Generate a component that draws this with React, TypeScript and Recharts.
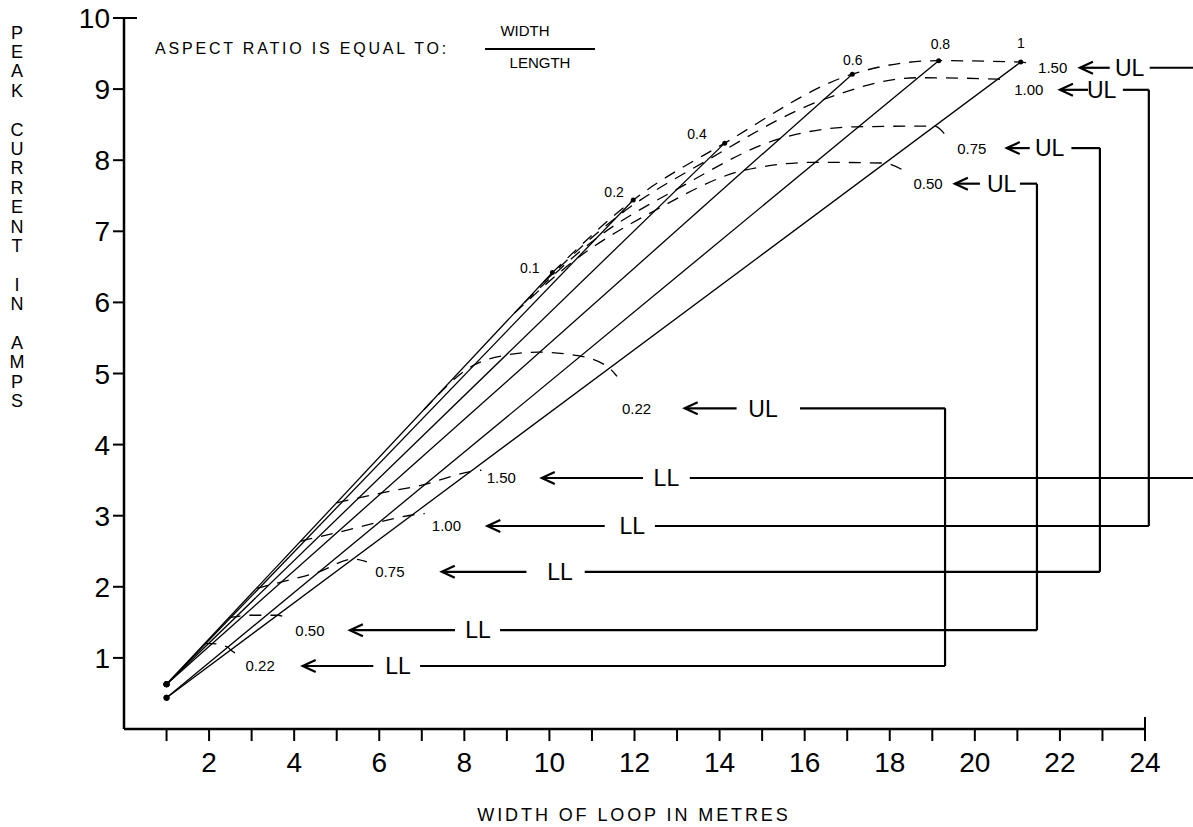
import React from 'react';
import { LineChart, Line, XAxis, YAxis, ReferenceLine, ReferenceDot } from 'recharts';

const FONT = '"Liberation Sans", Arial, Helvetica, sans-serif';

// solid lines, one per aspect ratio (width / length)
const ratioLabels = ['0.1', '0.2', '0.4', '0.6', '0.8', '1'];
const ratio01 = [{ x: 1.0, y: 0.63 }, { x: 10.07, y: 6.42 }];
const ratio02 = [{ x: 1.0, y: 0.63 }, { x: 11.97, y: 7.44 }];
const ratio04 = [{ x: 1.0, y: 0.63 }, { x: 14.12, y: 8.24 }];
const ratio06 = [{ x: 1.0, y: 0.63 }, { x: 17.12, y: 9.21 }];
const ratio08 = [{ x: 1.0, y: 0.44 }, { x: 19.15, y: 9.4 }];
const ratio10 = [{ x: 1.0, y: 0.44 }, { x: 21.08, y: 9.38 }];
const ratioLines = [ratio01, ratio02, ratio04, ratio06, ratio08, ratio10];
const ratioLabelAt = [
  { x: 9.54, y: 6.49 },
  { x: 11.52, y: 7.56 },
  { x: 13.47, y: 8.37 },
  { x: 17.13, y: 9.41 },
  { x: 19.19, y: 9.63 },
  { x: 21.08, y: 9.65 },
];

// dashed curves: upper limits
const ul150 = [
  { x: 10.07, y: 6.42 }, { x: 11.97, y: 7.44 }, { x: 14.12, y: 8.24 }, { x: 17.12, y: 9.21 },
  { x: 19.15, y: 9.4 }, { x: 21.08, y: 9.38 }, { x: 21.3, y: 9.36 },
];
const ul100 = [
  { x: 9.86, y: 6.28 }, { x: 11.58, y: 7.2 }, { x: 13.71, y: 8.0 }, { x: 16.43, y: 8.85 },
  { x: 18.66, y: 9.16 }, { x: 20.54, y: 9.14 }, { x: 20.8, y: 9.12 },
];
const ul075 = [
  { x: 9.42, y: 6.0 }, { x: 11.1, y: 6.9 }, { x: 13.02, y: 7.6 }, { x: 15.4, y: 8.3 },
  { x: 17.23, y: 8.47 }, { x: 19.04, y: 8.48 }, { x: 19.34, y: 8.33 },
];
const ul050 = [
  { x: 9.18, y: 5.85 }, { x: 10.61, y: 6.6 }, { x: 12.5, y: 7.3 }, { x: 14.59, y: 7.86 },
  { x: 16.24, y: 7.97 }, { x: 17.84, y: 7.96 }, { x: 18.43, y: 7.82 },
];
const ul022 = [
  { x: 7.05, y: 4.49 }, { x: 8.23, y: 5.12 }, { x: 9.0, y: 5.26 }, { x: 9.73, y: 5.3 },
  { x: 10.67, y: 5.25 }, { x: 11.4, y: 5.08 }, { x: 11.59, y: 4.96 },
];

// dashed curves: lower limits
const ll150 = [
  { x: 5.0, y: 3.18 }, { x: 5.14, y: 3.2 }, { x: 5.52, y: 3.25 }, { x: 6.06, y: 3.32 },
  { x: 7.0, y: 3.43 }, { x: 8.15, y: 3.62 }, { x: 8.4, y: 3.64 },
];
const ll100 = [
  { x: 4.15, y: 2.64 }, { x: 4.27, y: 2.66 }, { x: 4.57, y: 2.7 }, { x: 5.0, y: 2.76 },
  { x: 6.0, y: 2.91 }, { x: 6.78, y: 3.01 }, { x: 7.07, y: 3.03 },
];
const ll075 = [
  { x: 3.12, y: 1.98 }, { x: 3.19, y: 1.99 }, { x: 3.4, y: 2.02 }, { x: 3.71, y: 2.07 },
  { x: 4.58, y: 2.21 }, { x: 5.38, y: 2.39 }, { x: 5.71, y: 2.35 },
];
const ll050 = [
  { x: 2.46, y: 1.56 }, { x: 2.51, y: 1.57 }, { x: 2.64, y: 1.58 }, { x: 2.85, y: 1.6 },
  { x: 3.35, y: 1.6 }, { x: 3.61, y: 1.6 }, { x: 3.85, y: 1.55 },
];
const ll022 = [
  { x: 1.89, y: 1.2 }, { x: 1.92, y: 1.2 }, { x: 1.98, y: 1.2 }, { x: 2.07, y: 1.2 },
  { x: 2.44, y: 1.15 }, { x: 2.51, y: 1.11 }, { x: 2.73, y: 1.04 },
];
const limitCurves = [ul150, ul100, ul075, ul050, ul022, ll150, ll100, ll075, ll050, ll022];

// callouts: number, arrow, tag, then a line out to the bracket
type Callout = { value: string; y: number; labelX: number; tipX: number; tailX: number; tagX: number; lineX: number; endX: number };
const ulCallouts: Callout[] = [
  { value: '1.50', y: 9.3, labelX: 21.83, tipX: 22.47, tailX: 23.17, tagX: 23.64, lineX: 24.11, endX: 25.6 },
  { value: '1.00', y: 8.99, labelX: 21.27, tipX: 22.0, tailX: 22.66, tagX: 22.98, lineX: 23.48, endX: 24.09 },
  { value: '0.75', y: 8.17, labelX: 19.93, tipX: 20.75, tailX: 21.29, tagX: 21.76, lineX: 22.27, endX: 22.94 },
  { value: '0.50', y: 7.67, labelX: 18.9, tipX: 19.53, tailX: 20.12, tagX: 20.63, lineX: 21.06, endX: 21.46 },
  { value: '0.22', y: 4.51, labelX: 12.05, tipX: 13.18, tailX: 14.4, tagX: 15.02, lineX: 15.89, endX: 19.3 },
];
const llCallouts: Callout[] = [
  { value: '1.50', y: 3.53, labelX: 8.87, tipX: 9.82, tailX: 12.2, tagX: 12.75, lineX: 13.3, endX: 25.6 },
  { value: '1.00', y: 2.855, labelX: 7.58, tipX: 8.54, tailX: 11.3, tagX: 11.95, lineX: 12.48, endX: 24.09 },
  { value: '0.75', y: 2.21, labelX: 6.25, tipX: 7.47, tailX: 9.46, tagX: 10.25, lineX: 10.83, endX: 22.94 },
  { value: '0.50', y: 1.39, labelX: 4.37, tipX: 5.31, tailX: 7.78, tagX: 8.32, lineX: 8.84, endX: 21.46 },
  { value: '0.22', y: 0.886, labelX: 3.2, tipX: 4.2, tailX: 5.86, tagX: 6.44, lineX: 6.96, endX: 19.3 },
];

const xTicks = [1, 2, 3, 4, 5, 6, 7, 8, 9, 10, 11, 12, 13, 14, 15, 16, 17, 18, 19, 20, 21, 22, 23, 24];
const yTicks = [1, 2, 3, 4, 5, 6, 7, 8, 9, 10];

const X_TICK = 12;
const X_GAP = 4;
const Y_TICK = 11;
const Y_GAP = 3;

const XTick = (p: any) => {
  const v = p.payload.value;
  const axisY = p.y - X_TICK - X_GAP;
  return (
    <g>
      {v === 24 && <line x1={p.x} x2={p.x} y1={axisY - 12} y2={axisY} stroke="#000" strokeWidth={2} />}
      {v % 2 === 0 && (
        <text x={p.x} y={axisY + 43} textAnchor="middle" fontSize={28} fontFamily={FONT} fill="#000">
          {v}
        </text>
      )}
    </g>
  );
};

const YTick = (p: any) => {
  const v = p.payload.value;
  const axisX = p.x + Y_TICK + Y_GAP;
  return (
    <g>
      {v === 10 && <line x1={axisX} x2={axisX + 13} y1={p.y} y2={p.y} stroke="#000" strokeWidth={2} />}
      <text x={p.x} y={p.y} dy="0.36em" textAnchor="end" fontSize={28} fontFamily={FONT} fill="#000">
        {v}
      </text>
    </g>
  );
};

const textShape = (text: string, size: number) => (p: any) => (
  <text x={p.cx} y={p.cy} dy="0.36em" textAnchor="middle" fontSize={size} fontFamily={FONT} fill="#000">
    {text}
  </text>
);

const arrowHead = (p: any) => (
  <path
    d={`M${p.cx + 13},${p.cy - 6} L${p.cx},${p.cy} L${p.cx + 13},${p.cy + 6}`}
    fill="none"
    stroke="#000"
    strokeWidth={2.2}
  />
);

const endDot = (p: any) => (
  <circle key={`dot-${p.index}`} cx={p.cx} cy={p.cy} r={p.index === 0 ? 3 : 2.5} fill="#000" />
);

const renderCallout = (c: Callout, tag: string) => (
  <React.Fragment key={`${tag}-${c.value}`}>
    <ReferenceDot x={c.labelX} y={c.y} r={0} ifOverflow="visible" shape={textShape(c.value, 15)} />
    <ReferenceLine
      segment={[{ x: c.tipX, y: c.y }, { x: c.tailX, y: c.y }]}
      stroke="#000"
      strokeWidth={2.2}
      ifOverflow="visible"
    />
    <ReferenceDot x={c.tipX} y={c.y} r={0} ifOverflow="visible" shape={arrowHead} />
    <ReferenceDot x={c.tagX} y={c.y} r={0} ifOverflow="visible" shape={textShape(tag, 23)} />
    <ReferenceLine
      segment={[{ x: c.lineX, y: c.y }, { x: c.endX, y: c.y }]}
      stroke="#000"
      strokeWidth={2.2}
      ifOverflow="visible"
    />
  </React.Fragment>
);

const yTitle = 'PEAK CURRENT IN AMPS';

export default function App() {
  return (
    <div style={{ position: 'relative', width: 1193, height: 827, background: '#fff', fontFamily: FONT }}>
      <style>{'body{margin:0}'}</style>
      <LineChart width={1193} height={827} margin={{ top: 18, right: 48, bottom: 0, left: 0 }}>
        <XAxis
          type="number"
          dataKey="x"
          domain={[0, 24]}
          ticks={xTicks}
          interval={0}
          height={98}
          tickSize={X_TICK}
          tickMargin={X_GAP}
          tick={<XTick />}
          axisLine={{ stroke: '#000', strokeWidth: 2.5 }}
          tickLine={{ stroke: '#000', strokeWidth: 2 }}
        />
        <YAxis
          type="number"
          dataKey="y"
          domain={[0, 10]}
          ticks={yTicks}
          interval={0}
          width={124}
          tickSize={Y_TICK}
          tickMargin={Y_GAP}
          tick={<YTick />}
          axisLine={{ stroke: '#000', strokeWidth: 2.5 }}
          tickLine={{ stroke: '#000', strokeWidth: 2 }}
        />
        {limitCurves.map((d, i) => (
          <Line
            key={`lim-${i}`}
            data={d}
            dataKey="y"
            type="monotone"
            stroke="#000"
            strokeWidth={1.3}
            strokeDasharray="12 9"
            dot={false}
            activeDot={false}
            isAnimationActive={false}
          />
        ))}
        {ratioLines.map((d, i) => (
          <Line
            key={`ratio-${i}`}
            data={d}
            dataKey="y"
            type="linear"
            stroke="#000"
            strokeWidth={1.3}
            dot={endDot}
            activeDot={false}
            isAnimationActive={false}
          />
        ))}
        {ratioLabels.map((t, i) => (
          <ReferenceDot
            key={`rl-${t}`}
            x={ratioLabelAt[i].x}
            y={ratioLabelAt[i].y}
            r={0}
            ifOverflow="visible"
            shape={textShape(t, 14)}
          />
        ))}
        {ulCallouts.map((c) => renderCallout(c, 'UL'))}
        {llCallouts.map((c) => renderCallout(c, 'LL'))}
        {ulCallouts.map((c, i) => (
          <ReferenceLine
            key={`br-${c.value}`}
            segment={[{ x: c.endX, y: c.y }, { x: c.endX, y: llCallouts[i].y }]}
            stroke="#000"
            strokeWidth={2.2}
            ifOverflow="visible"
          />
        ))}
      </LineChart>

      <div
        style={{
          position: 'absolute', left: 0, top: 23.5, width: 34, textAlign: 'center',
          fontSize: 18, lineHeight: '19.4px', color: '#000',
        }}
      >
        {yTitle.split('').map((ch, i) => (
          <div key={i}>{ch === ' ' ? '\u00a0' : ch}</div>
        ))}
      </div>

      <div style={{ position: 'absolute', left: 155, top: 41, fontSize: 16, lineHeight: '16px', letterSpacing: 2.8, whiteSpace: 'nowrap' }}>
        ASPECT RATIO IS EQUAL TO:
      </div>
      <div style={{ position: 'absolute', left: 475, top: 23, width: 100, textAlign: 'center', fontSize: 15, lineHeight: '16px' }}>
        WIDTH
      </div>
      <div style={{ position: 'absolute', left: 485, top: 48, width: 110, height: 2, background: '#000' }} />
      <div style={{ position: 'absolute', left: 490, top: 55, width: 100, textAlign: 'center', fontSize: 15, lineHeight: '16px' }}>
        LENGTH
      </div>

      <div style={{ position: 'absolute', left: 334, top: 805, width: 600, textAlign: 'center', fontSize: 18, lineHeight: '20px', letterSpacing: 2.9, whiteSpace: 'nowrap' }}>
        WIDTH OF LOOP IN METRES
      </div>
    </div>
  );
}
